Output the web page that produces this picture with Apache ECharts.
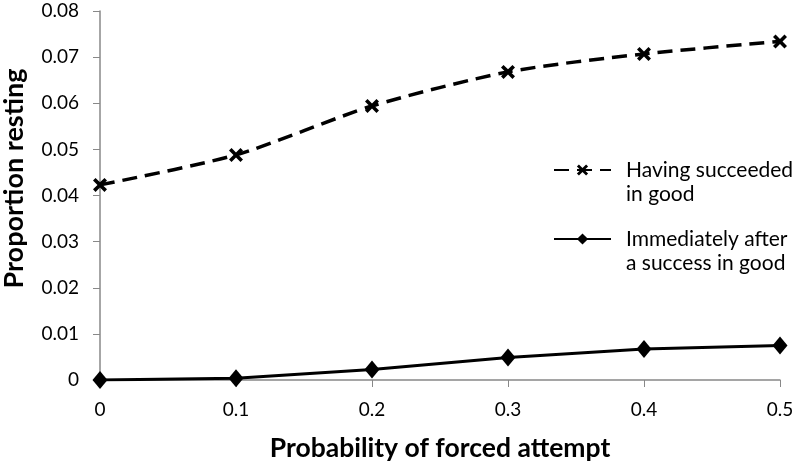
<!DOCTYPE html>
<html><head><meta charset="utf-8">
<script src="https://cdn.jsdelivr.net/npm/echarts@6/dist/echarts.min.js"></script>
<style>html,body{margin:0;padding:0;background:#fff}#c{width:800px;height:466px}</style>
</head><body><div id="c"></div>
<script>
const xValues = [0, 0.1, 0.2, 0.3, 0.4, 0.5];
const succeededInGood = [0.0423, 0.0488, 0.0594, 0.0668, 0.0707, 0.0734];
const immediatelyAfter = [0.0, 0.0004, 0.0023, 0.0049, 0.0067, 0.0075];
const seriesNames = ['Having succeeded\nin good', 'Immediately after\na success in good'];
const xTitle = 'Probability of forced attempt';
const yTitle = 'Proportion resting';

const font = 'Lato, "Open Sans", sans-serif';
const xMark = 'path://M0,1.8L1.8,0L5,3.2L8.2,0L10,1.8L6.8,5L10,8.2L8.2,10L5,6.8L1.8,10L0,8.2L3.2,5Z';
const chart = echarts.init(document.getElementById('c'));
chart.setOption({
  animation: false,
  textStyle: { fontFamily: font },
  grid: { left: 100, right: 20, top: 11, bottom: 86, containLabel: false, outerBoundsMode: 'none' },
  legend: {
    orient: 'vertical', left: 548, top: 129, itemGap: -3,
    itemWidth: 57, itemHeight: 14,
    formatter: name => ' \n' + name,
    textStyle: { fontSize: 21, color: '#000', lineHeight: 24, fontFamily: font, padding: [0, 0, 0, 10] },
    data: seriesNames.map(n => ({ name: n }))
  },
  xAxis: {
    type: 'value', min: 0, max: 0.5, interval: 0.1,
    name: xTitle, nameLocation: 'middle', nameGap: 55,
    nameTextStyle: { fontSize: 26.5, fontWeight: 'bold', color: '#000', fontFamily: font },
    axisLine: { show: true, lineStyle: { color: '#888', width: 1.5 } },
    axisTick: { show: true, length: 7, lineStyle: { color: '#888' } },
    axisLabel: { fontSize: 19, color: '#000', margin: 20 },
    splitLine: { show: false }
  },
  yAxis: {
    type: 'value', min: 0, max: 0.08, interval: 0.01,
    name: yTitle, nameLocation: 'middle', nameGap: 72,
    nameTextStyle: { fontSize: 27, fontWeight: 'bold', color: '#000', fontFamily: font, padding: [0, 0, 0, 34] },
    axisLine: { show: true, lineStyle: { color: '#888', width: 1.5 } },
    axisTick: { show: true, length: 7, lineStyle: { color: '#888' } },
    axisLabel: { fontSize: 19, color: '#000', margin: 21 },
    splitLine: { show: false }
  },
  series: [
    {
      name: seriesNames[0], type: 'line', smooth: 0.25,
      data: xValues.map((x, i) => [x, succeededInGood[i]]),
      symbol: xMark, symbolSize: 14,
      itemStyle: { color: '#000' },
      lineStyle: { color: '#000', width: 3.5, type: [15, 8] }
    },
    {
      name: seriesNames[1], type: 'line',
      data: xValues.map((x, i) => [x, immediatelyAfter[i]]),
      symbol: 'diamond', symbolSize: [15, 18],
      itemStyle: { color: '#000' },
      lineStyle: { color: '#000', width: 3 }
    }
  ]
});
</script></body></html>
